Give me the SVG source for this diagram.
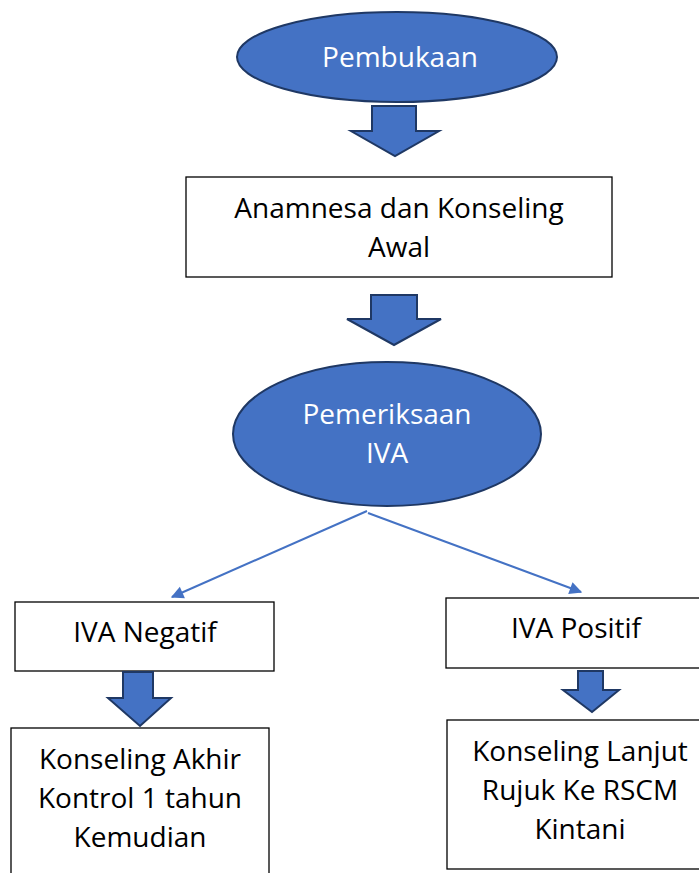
<svg xmlns="http://www.w3.org/2000/svg" width="699" height="873" viewBox="0 0 699 873">
<style>
.ell{fill:#4472C4;stroke:#1F3864;stroke-width:2}
.box{fill:#FFFFFF;stroke:#000000;stroke-width:1.3}
.blk{fill:#4472C4;stroke:#1F3864;stroke-width:2;stroke-linejoin:miter}
.tw{font-family:"Open Sans","Noto Sans",sans-serif;font-size:28px;fill:#FFFFFF;text-anchor:middle}
.tb{font-family:"Open Sans","Noto Sans",sans-serif;font-size:28px;fill:#000000;text-anchor:middle}
.con{stroke:#4472C4;stroke-width:2;fill:none}
</style>
<defs>
<marker id="ah" viewBox="0 0 10 10" refX="9" refY="5" markerWidth="8" markerHeight="7" markerUnits="userSpaceOnUse" orient="auto" overflow="visible">
<path d="M0,0 L10,5 L0,10 z" fill="#4472C4" transform="scale(1.8)" transform-origin="9 5"/>
</marker>
</defs>
<rect width="699" height="873" fill="#FFFFFF"/>

<g id="pembukaan">
<ellipse class="ell" cx="397" cy="57" rx="160" ry="45"/>
<text class="tw" x="400" y="67">Pembukaan</text>
</g>

<g id="arrow1">
<path class="blk" d="M372,106 L416,106 L416,131 L439,131 L395,156 L351,131 L372,131 Z"/>
</g>

<g id="anamnesa">
<rect class="box" x="186" y="177" width="426" height="100"/>
<text class="tb" x="399" y="218">Anamnesa dan Konseling</text>
<text class="tb" x="399" y="257">Awal</text>
</g>

<g id="arrow2">
<path class="blk" d="M371,295 L417,295 L417,319 L441,319 L394,345 L347,319 L371,319 Z"/>
</g>

<g id="pemeriksaan">
<ellipse class="ell" cx="387" cy="434" rx="154" ry="72"/>
<text class="tw" x="387" y="424">Pemeriksaan</text>
<text class="tw" x="387" y="463">IVA</text>
</g>

<g id="connectors">
<line class="con" x1="367" y1="511" x2="172" y2="597" marker-end="url(#ah)"/>
<line class="con" x1="368" y1="513" x2="581" y2="592" marker-end="url(#ah)"/>
</g>

<g id="iva-negatif">
<rect class="box" x="15" y="602" width="259" height="69"/>
<text class="tb" x="145" y="642">IVA Negatif</text>
</g>

<g id="iva-positif">
<rect class="box" x="446" y="598" width="260" height="70"/>
<text class="tb" x="576" y="638">IVA Positif</text>
</g>

<g id="arrow3">
<path class="blk" d="M123,672 L153,672 L153,698 L171,698 L140,726 L108,698 L123,698 Z"/>
</g>

<g id="arrow4">
<path class="blk" d="M578,671 L603,671 L603,690 L619,690 L592,712 L563,690 L578,690 Z"/>
</g>

<g id="konseling-akhir">
<rect class="box" x="11" y="728" width="258" height="160"/>
<text class="tb" x="140" y="769">Konseling Akhir</text>
<text class="tb" x="140" y="808">Kontrol 1 tahun</text>
<text class="tb" x="140" y="847">Kemudian</text>
</g>

<g id="konseling-lanjut">
<rect class="box" x="447" y="720" width="270" height="149"/>
<text class="tb" x="580" y="761">Konseling Lanjut</text>
<text class="tb" x="580" y="800">Rujuk Ke RSCM</text>
<text class="tb" x="580" y="839">Kintani</text>
</g>
</svg>
